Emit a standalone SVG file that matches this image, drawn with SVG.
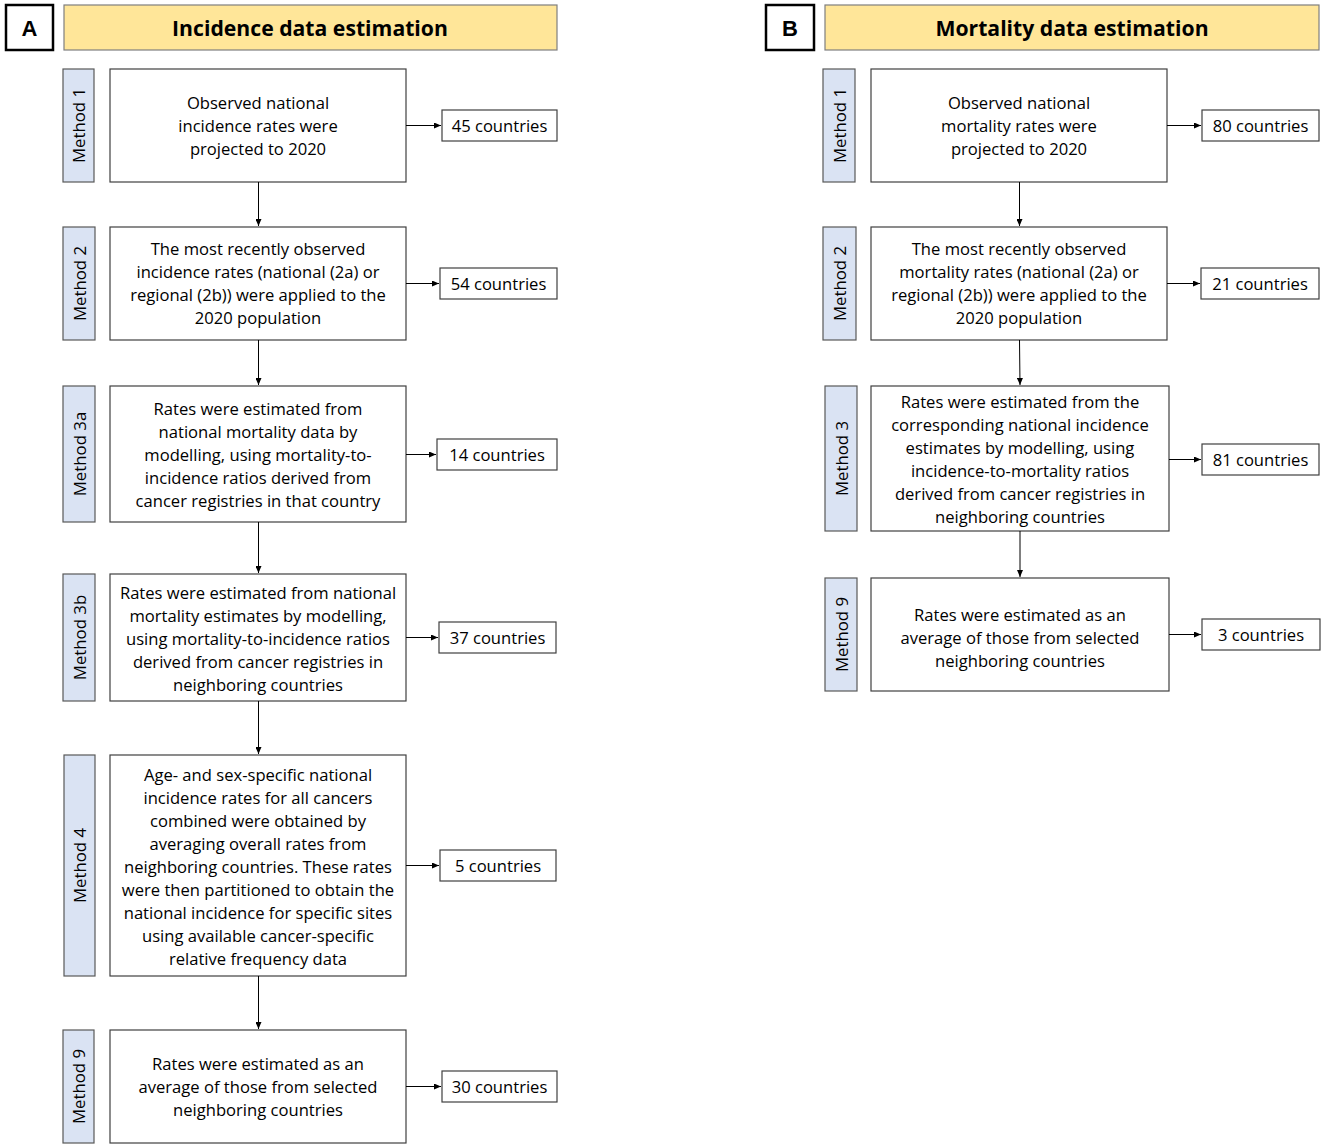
<svg xmlns="http://www.w3.org/2000/svg" width="1325" height="1148" viewBox="0 0 1325 1148">
<defs>
<marker id="ah" markerWidth="7" markerHeight="6" refX="7" refY="3" orient="auto" markerUnits="userSpaceOnUse">
<path d="M0,0 L7,3 L0,6 Z" fill="#000"/>
</marker>
<style>
.letter{fill:#fff;stroke:#000;stroke-width:2.5}
.lt{font-family:"Liberation Sans",Arial,sans-serif;font-weight:bold;font-size:22px;fill:#000}
.title{fill:#FFE699;stroke:#7f7f7f;stroke-width:1.2}
.tt{font-family:"Open Sans","Noto Sans",sans-serif;font-weight:bold;font-size:21.2px;fill:#000}
.meth{fill:#DAE3F3;stroke:#595959;stroke-width:1.2}
.mt{font-family:"Open Sans","Noto Sans",sans-serif;font-size:16.8px;fill:#000}
.box{fill:#fff;stroke:#404040;stroke-width:1.2}
.bt{font-family:"Open Sans","Noto Sans",sans-serif;font-size:16.6px;fill:#000}
.cnt{fill:#fff;stroke:#404040;stroke-width:1.2}
.conn line{stroke:#000;stroke-width:1;marker-end:url(#ah)}
</style>
</defs>
<rect width="1325" height="1148" fill="#fff"/>

<!-- Panel A header -->
<g id="labelA"><rect class="letter" x="6" y="5" width="47" height="45"/><text class="lt" x="29.5" y="28" text-anchor="middle" dominant-baseline="central">A</text></g>
<g id="titleA"><rect class="title" x="64" y="5" width="493" height="45"/><text class="tt" x="310" y="27.5" text-anchor="middle" dominant-baseline="central">Incidence data estimation</text></g>

<!-- Panel B header -->
<g id="labelB"><rect class="letter" x="766" y="5" width="48" height="45"/><text class="lt" x="790" y="28" text-anchor="middle" dominant-baseline="central">B</text></g>
<g id="titleB"><rect class="title" x="825" y="5" width="494" height="45"/><text class="tt" x="1072" y="27.5" text-anchor="middle" dominant-baseline="central">Mortality data estimation</text></g>

<!-- Panel A method labels -->
<g id="A-m1"><rect class="meth" x="63" y="69" width="31" height="113"/><text class="mt" transform="translate(78.5,125.5) rotate(-90)" text-anchor="middle" dominant-baseline="central">Method 1</text></g>
<g id="A-m2"><rect class="meth" x="63" y="227" width="32" height="113"/><text class="mt" transform="translate(79,283.5) rotate(-90)" text-anchor="middle" dominant-baseline="central">Method 2</text></g>
<g id="A-m3a"><rect class="meth" x="63" y="386" width="32" height="136"/><text class="mt" transform="translate(79,454) rotate(-90)" text-anchor="middle" dominant-baseline="central">Method 3a</text></g>
<g id="A-m3b"><rect class="meth" x="63" y="574" width="32" height="127"/><text class="mt" transform="translate(79,637.5) rotate(-90)" text-anchor="middle" dominant-baseline="central">Method 3b</text></g>
<g id="A-m4"><rect class="meth" x="64" y="755" width="31" height="221"/><text class="mt" transform="translate(79.5,865.5) rotate(-90)" text-anchor="middle" dominant-baseline="central">Method 4</text></g>
<g id="A-m9"><rect class="meth" x="63" y="1030" width="31" height="113"/><text class="mt" transform="translate(78.5,1086.5) rotate(-90)" text-anchor="middle" dominant-baseline="central">Method 9</text></g>

<!-- Panel A boxes -->
<g id="A-b1"><rect class="box" x="110" y="69" width="296" height="113"/>
<text class="bt" text-anchor="middle" dominant-baseline="central"><tspan x="258" y="102">Observed national</tspan><tspan x="258" y="125">incidence rates were</tspan><tspan x="258" y="148">projected to 2020</tspan></text></g>
<g id="A-b2"><rect class="box" x="110" y="227" width="296" height="113"/>
<text class="bt" text-anchor="middle" dominant-baseline="central"><tspan x="258" y="248">The most recently observed</tspan><tspan x="258" y="271">incidence rates (national (2a) or</tspan><tspan x="258" y="294">regional (2b)) were applied to the</tspan><tspan x="258" y="317">2020 population</tspan></text></g>
<g id="A-b3a"><rect class="box" x="110" y="386" width="296" height="136"/>
<text class="bt" text-anchor="middle" dominant-baseline="central"><tspan x="258" y="407.5">Rates were estimated from</tspan><tspan x="258" y="430.5">national mortality data by</tspan><tspan x="258" y="453.5">modelling, using mortality-to-</tspan><tspan x="258" y="476.5">incidence ratios derived from</tspan><tspan x="258" y="499.5">cancer registries in that country</tspan></text></g>
<g id="A-b3b"><rect class="box" x="110" y="574" width="296" height="127"/>
<text class="bt" text-anchor="middle" dominant-baseline="central"><tspan x="258" y="591.5">Rates were estimated from national</tspan><tspan x="258" y="614.5">mortality estimates by modelling,</tspan><tspan x="258" y="637.5">using mortality-to-incidence ratios</tspan><tspan x="258" y="660.5">derived from cancer registries in</tspan><tspan x="258" y="683.5">neighboring countries</tspan></text></g>
<g id="A-b4"><rect class="box" x="110" y="755" width="296" height="221"/>
<text class="bt" text-anchor="middle" dominant-baseline="central"><tspan x="258" y="773.5">Age- and sex-specific national</tspan><tspan x="258" y="796.5">incidence rates for all cancers</tspan><tspan x="258" y="819.5">combined were obtained by</tspan><tspan x="258" y="842.5">averaging overall rates from</tspan><tspan x="258" y="865.5">neighboring countries. These rates</tspan><tspan x="258" y="888.5">were then partitioned to obtain the</tspan><tspan x="258" y="911.5">national incidence for specific sites</tspan><tspan x="258" y="934.5">using available cancer-specific</tspan><tspan x="258" y="957.5">relative frequency data</tspan></text></g>
<g id="A-b9"><rect class="box" x="110" y="1030" width="296" height="113"/>
<text class="bt" text-anchor="middle" dominant-baseline="central"><tspan x="258" y="1063">Rates were estimated as an</tspan><tspan x="258" y="1086">average of those from selected</tspan><tspan x="258" y="1109">neighboring countries</tspan></text></g>

<!-- Panel A counts -->
<g id="A-c1"><rect class="cnt" x="442" y="110" width="115" height="31"/><text class="bt" x="499.5" y="125" text-anchor="middle" dominant-baseline="central">45 countries</text></g>
<g id="A-c2"><rect class="cnt" x="440" y="268" width="117" height="31"/><text class="bt" x="498.5" y="283" text-anchor="middle" dominant-baseline="central">54 countries</text></g>
<g id="A-c3a"><rect class="cnt" x="437" y="439" width="120" height="31"/><text class="bt" x="497" y="454" text-anchor="middle" dominant-baseline="central">14 countries</text></g>
<g id="A-c3b"><rect class="cnt" x="439" y="622" width="117" height="31"/><text class="bt" x="497.5" y="637" text-anchor="middle" dominant-baseline="central">37 countries</text></g>
<g id="A-c4"><rect class="cnt" x="440" y="850" width="116" height="31"/><text class="bt" x="498" y="865" text-anchor="middle" dominant-baseline="central">5 countries</text></g>
<g id="A-c9"><rect class="cnt" x="442" y="1071" width="115" height="31"/><text class="bt" x="499.5" y="1086" text-anchor="middle" dominant-baseline="central">30 countries</text></g>

<!-- Panel B method labels -->
<g id="B-m1"><rect class="meth" x="823" y="69" width="32" height="113"/><text class="mt" transform="translate(839,125.5) rotate(-90)" text-anchor="middle" dominant-baseline="central">Method 1</text></g>
<g id="B-m2"><rect class="meth" x="823" y="227" width="33" height="113"/><text class="mt" transform="translate(839.5,283.5) rotate(-90)" text-anchor="middle" dominant-baseline="central">Method 2</text></g>
<g id="B-m3"><rect class="meth" x="825" y="386" width="32" height="145"/><text class="mt" transform="translate(841,458.5) rotate(-90)" text-anchor="middle" dominant-baseline="central">Method 3</text></g>
<g id="B-m9"><rect class="meth" x="825" y="578" width="32" height="113"/><text class="mt" transform="translate(841,634.5) rotate(-90)" text-anchor="middle" dominant-baseline="central">Method 9</text></g>

<!-- Panel B boxes -->
<g id="B-b1"><rect class="box" x="871" y="69" width="296" height="113"/>
<text class="bt" text-anchor="middle" dominant-baseline="central"><tspan x="1019" y="102">Observed national</tspan><tspan x="1019" y="125">mortality rates were</tspan><tspan x="1019" y="148">projected to 2020</tspan></text></g>
<g id="B-b2"><rect class="box" x="871" y="227" width="296" height="113"/>
<text class="bt" text-anchor="middle" dominant-baseline="central"><tspan x="1019" y="248">The most recently observed</tspan><tspan x="1019" y="271">mortality rates (national (2a) or</tspan><tspan x="1019" y="294">regional (2b)) were applied to the</tspan><tspan x="1019" y="317">2020 population</tspan></text></g>
<g id="B-b3"><rect class="box" x="871" y="386" width="298" height="145"/>
<text class="bt" text-anchor="middle" dominant-baseline="central"><tspan x="1020" y="400.5">Rates were estimated from the</tspan><tspan x="1020" y="423.5">corresponding national incidence</tspan><tspan x="1020" y="446.5">estimates by modelling, using</tspan><tspan x="1020" y="469.5">incidence-to-mortality ratios</tspan><tspan x="1020" y="492.5">derived from cancer registries in</tspan><tspan x="1020" y="515.5">neighboring countries</tspan></text></g>
<g id="B-b9"><rect class="box" x="871" y="578" width="298" height="113"/>
<text class="bt" text-anchor="middle" dominant-baseline="central"><tspan x="1020" y="614">Rates were estimated as an</tspan><tspan x="1020" y="637">average of those from selected</tspan><tspan x="1020" y="660">neighboring countries</tspan></text></g>

<!-- Panel B counts -->
<g id="B-c1"><rect class="cnt" x="1202" y="110" width="117" height="31"/><text class="bt" x="1260.5" y="125" text-anchor="middle" dominant-baseline="central">80 countries</text></g>
<g id="B-c2"><rect class="cnt" x="1201" y="268" width="118" height="31"/><text class="bt" x="1260" y="283" text-anchor="middle" dominant-baseline="central">21 countries</text></g>
<g id="B-c3"><rect class="cnt" x="1202" y="444" width="117" height="31"/><text class="bt" x="1260.5" y="459" text-anchor="middle" dominant-baseline="central">81 countries</text></g>
<g id="B-c9"><rect class="cnt" x="1202" y="619" width="118" height="31"/><text class="bt" x="1261" y="634" text-anchor="middle" dominant-baseline="central">3 countries</text></g>

<!-- Connectors -->
<g id="connectors" class="conn">
<line x1="406" y1="125.5" x2="441" y2="125.5"/>
<line x1="406" y1="283.5" x2="439" y2="283.5"/>
<line x1="406" y1="454.5" x2="436" y2="454.5"/>
<line x1="406" y1="637.5" x2="438" y2="637.5"/>
<line x1="406" y1="865.5" x2="439" y2="865.5"/>
<line x1="406" y1="1086.5" x2="441" y2="1086.5"/>
<line x1="258.5" y1="182" x2="258.5" y2="226"/>
<line x1="258.5" y1="340" x2="258.5" y2="385"/>
<line x1="258.5" y1="522" x2="258.5" y2="573"/>
<line x1="258.5" y1="701" x2="258.5" y2="754"/>
<line x1="258.5" y1="976" x2="258.5" y2="1029"/>
<line x1="1167" y1="125.5" x2="1201" y2="125.5"/>
<line x1="1167" y1="283.5" x2="1200" y2="283.5"/>
<line x1="1169" y1="459.5" x2="1201" y2="459.5"/>
<line x1="1169" y1="634.5" x2="1201" y2="634.5"/>
<line x1="1019.5" y1="182" x2="1019.5" y2="226"/>
<line x1="1019.5" y1="340" x2="1020" y2="385"/>
<line x1="1020" y1="531" x2="1020" y2="577"/>
</g>
</svg>
